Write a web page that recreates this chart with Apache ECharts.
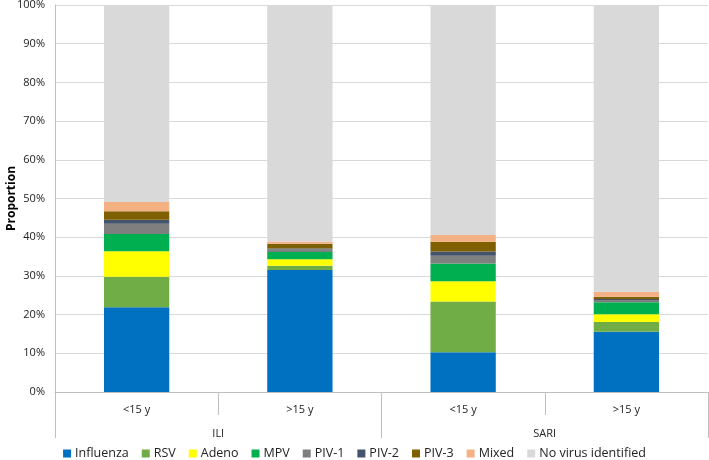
<!DOCTYPE html>
<html><head><meta charset="utf-8">
<script src="https://cdn.jsdelivr.net/npm/echarts@6/dist/echarts.min.js"></script>
<style>html,body{margin:0;padding:0;background:#fff}#c{width:709px;height:460px}</style>
</head><body><div id="c"></div>
<script>
const ageGroups = ['<15 y', '>15 y', '<15 y', '>15 y'];
const syndromes = ['ILI', 'SARI'];
const seriesNames = ['Influenza', 'RSV', 'Adeno', 'MPV', 'PIV-1', 'PIV-2', 'PIV-3', 'Mixed', 'No virus identified'];
const influenza = [21.9, 31.5, 10.3, 15.6];
const rsv       = [7.9, 1.1, 13.1, 2.5];
const adeno     = [6.6, 1.7, 5.2, 2.0];
const mpv       = [4.4, 1.9, 4.6, 3.1];
const piv1      = [2.7, 0.6, 2.0, 0.6];
const piv2      = [1.0, 0.3, 1.1, 0.2];
const piv3      = [2.2, 1.2, 2.5, 0.6];
const mixed     = [2.4, 0.6, 1.8, 1.3];
const noVirus   = [50.9, 61.1, 59.4, 74.2];
const colors = ['#0070C0', '#70AD47', '#FFFF00', '#00B050', '#7F7F7F', '#44546A', '#7F6000', '#F4B183', '#D9D9D9'];
const values = [influenza, rsv, adeno, mpv, piv1, piv2, piv3, mixed, noVirus];

const font = '"Open Sans", sans-serif';
const chart = echarts.init(document.getElementById('c'), null, {renderer: 'canvas'});
chart.setOption({
  animation: false,
  textStyle: {fontFamily: font},
  grid: {left: 55, right: 1, top: 5, bottom: 68, containLabel: false, outerBoundsMode: 'none'},
  legend: {
    bottom: 0, left: 'center', padding: 0, itemWidth: 8, itemHeight: 8, itemGap: 13,
    icon: 'rect',
    textStyle: {fontSize: 12.5, color: '#222', fontFamily: font, padding: [0, 0, 0, -1]},
    data: seriesNames
  },
  xAxis: [{
    type: 'category', data: ageGroups, position: 'bottom',
    axisLine: {show: true, lineStyle: {color: '#bfbfbf'}},
    axisTick: {show: true, length: 23, interval: 0, lineStyle: {color: '#bfbfbf'}},
    axisLabel: {margin: 12, fontSize: 11, color: '#222', interval: 0}
  }, {
    type: 'category', data: syndromes, position: 'bottom',
    axisLine: {show: false},
    axisTick: {show: true, length: 46, interval: 0, lineStyle: {color: '#bfbfbf'}},
    axisLabel: {margin: 36, fontSize: 11, color: '#222', interval: 0}
  }],
  yAxis: {
    type: 'value', min: 0, max: 100, interval: 10,
    name: 'Proportion', nameLocation: 'middle', nameGap: 37, nameMoveOverlap: false,
    nameTextStyle: {fontWeight: 'bold', fontSize: 12, color: '#000'},
    axisLine: {show: true, lineStyle: {color: '#bfbfbf'}},
    axisTick: {show: false},
    axisLabel: {formatter: '{value}%', fontSize: 11, color: '#222', margin: 10},
    splitLine: {lineStyle: {color: '#d9d9d9'}}
  },
  series: seriesNames.map((n, i) => ({
    name: n, type: 'bar', stack: 'all', xAxisIndex: 0,
    barWidth: '40%', data: values[i],
    itemStyle: {color: colors[i]}
  }))
});
</script></body></html>
